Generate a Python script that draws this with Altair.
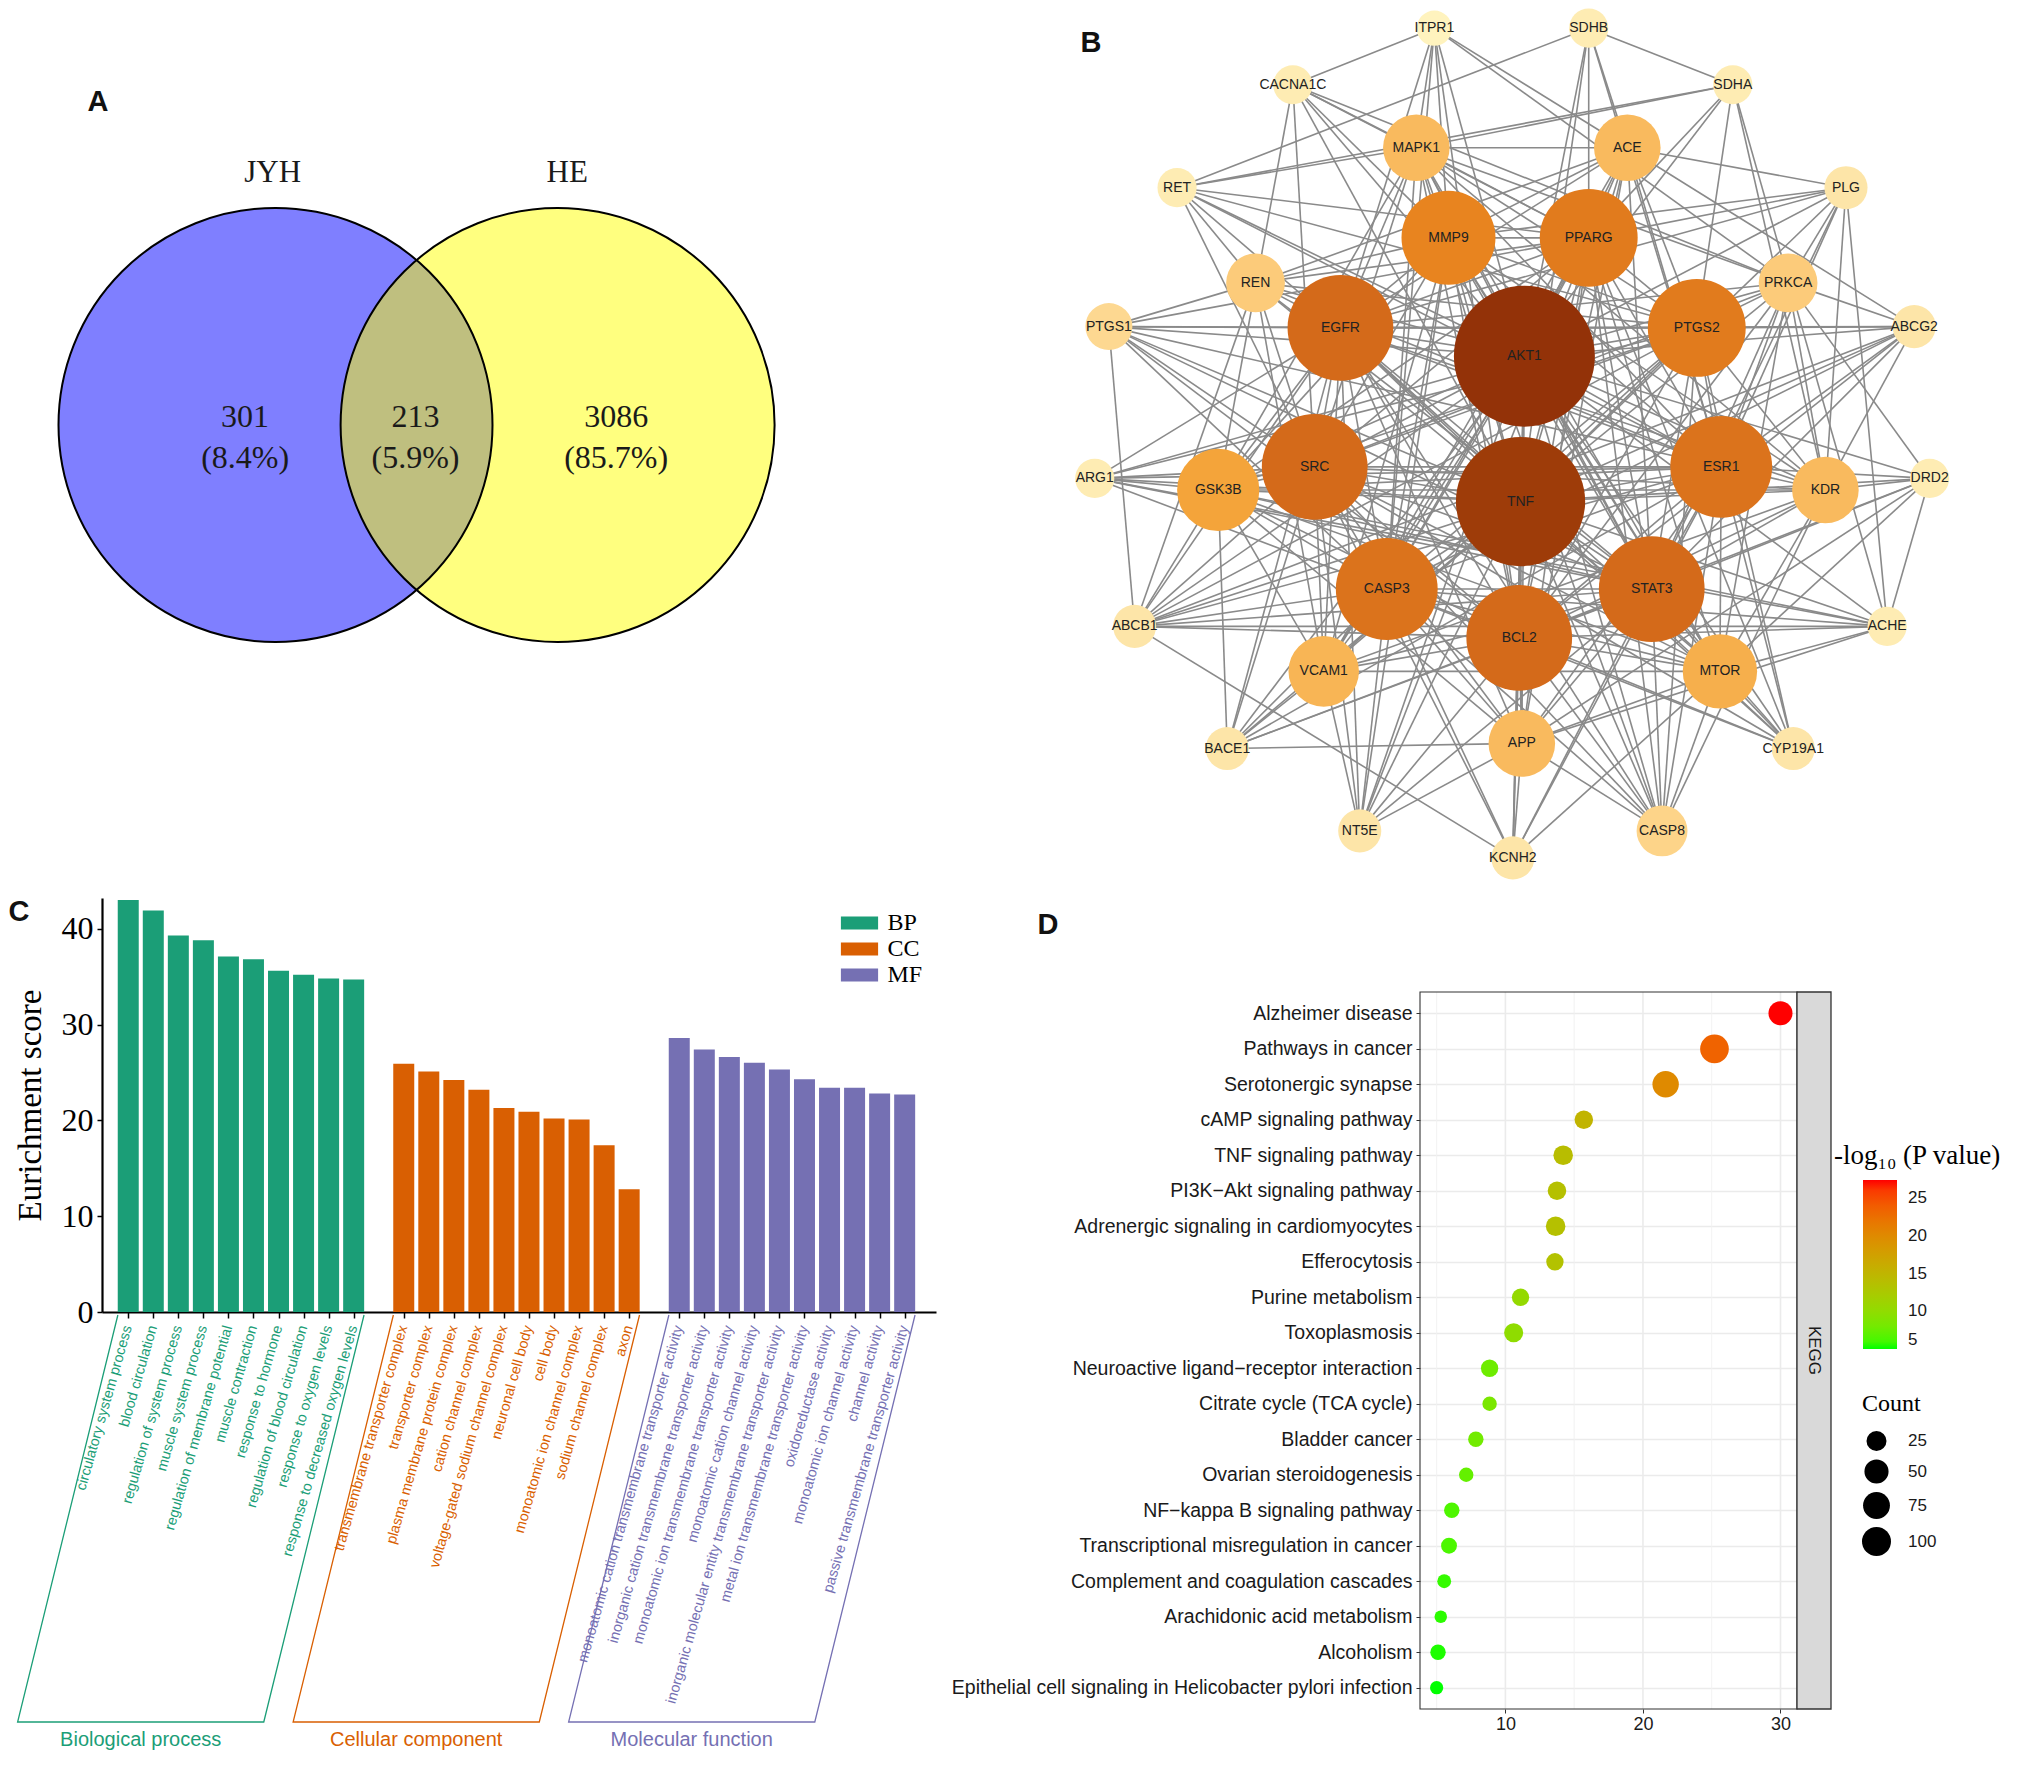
import math
import pandas as pd
import altair as alt

# ---------------- Panel A : Venn diagram ----------------
venn_sets = ["JYH", "HE"]
venn_center_x = [-0.65, 0.65]
venn_center_y = [0.0, 0.0]
venn_radius = 1.0
venn_fill = ["#0000FF", "#FFFF00"]
venn_set_label_x = [-0.663, 0.694]
venn_set_label_y = [1.161, 1.161]
venn_counts = [301, 213, 3086]
venn_pcts = ["8.4%", "5.9%", "85.7%"]
venn_region_x = [-0.79, -0.005, 0.92]
venn_count_y = 0.037
venn_pct_y = -0.150

# ---------------- Panel B : PPI network ----------------
gene_names = ["ITPR1", "SDHB", "CACNA1C", "SDHA", "MAPK1", "ACE", "RET", "PLG", "MMP9", "PPARG",
              "REN", "PRKCA", "PTGS1", "EGFR", "AKT1", "PTGS2", "ABCG2", "ARG1", "GSK3B", "SRC",
              "TNF", "ESR1", "KDR", "DRD2", "CASP3", "STAT3", "BCL2", "ABCB1", "ACHE", "VCAM1",
              "MTOR", "BACE1", "APP", "CYP19A1", "NT5E", "CASP8", "KCNH2"]
layout_x = [-6.6, 5.4, -17.6, 16.6, -8.0, 8.4, -26.6, 25.4, -5.5, 5.4,
            -20.5, 20.9, -31.9, -13.9, 0.4, 13.8, 30.7, -33.0, -23.4, -15.9,
            0.1, 15.7, 23.8, 31.9, -10.3, 10.3, 0.0, -29.9, 28.6, -15.2,
            15.6, -22.7, 0.2, 21.3, -12.4, 11.1, -0.5]
layout_y = [32.2, 32.2, 27.8, 27.8, 22.9, 22.9, 19.8, 19.8, 15.9, 15.9,
            12.4, 12.4, 9.0, 8.9, 6.7, 8.9, 9.0, -2.8, -3.7, -1.9,
            -4.6, -1.9, -3.7, -2.8, -11.4, -11.4, -15.2, -14.3, -14.3, -17.8,
            -17.8, -23.8, -23.4, -23.8, -30.2, -30.2, -32.3]
degree = [9, 10, 10, 10, 17, 17, 10, 11, 24, 25,
          15, 15, 12, 27, 36, 25, 11, 10, 21, 27,
          33, 26, 17, 10, 26, 27, 27, 11, 10, 18,
          19, 11, 17, 11, 11, 13, 11]
adjacency = {
    "AKT1": "TNF EGFR SRC STAT3 BCL2 CASP3 ESR1 PTGS2 PPARG MMP9",
    "TNF": "EGFR SRC STAT3 BCL2 CASP3 ESR1 PTGS2 PPARG MMP9",
    "EGFR": "SRC STAT3 BCL2 CASP3 ESR1 PTGS2 PPARG MMP9",
    "SRC": "STAT3 BCL2 CASP3 ESR1 PTGS2 PPARG MMP9",
    "STAT3": "BCL2 CASP3 ESR1 PTGS2 PPARG MMP9",
    "BCL2": "CASP3 ESR1 PTGS2 PPARG MMP9",
    "CASP3": "ESR1 PTGS2 PPARG MMP9",
    "ESR1": "PTGS2 PPARG MMP9",
    "PTGS2": "PPARG MMP9",
    "PPARG": "MMP9",
    "GSK3B": "AKT1 TNF EGFR SRC STAT3 BCL2 CASP3 ESR1 PPARG MMP9 MTOR APP MAPK1 BACE1 ARG1 ABCB1 VCAM1 KDR PTGS2",
    "MTOR": "AKT1 TNF EGFR SRC STAT3 BCL2 CASP3 ESR1 PPARG MMP9 MAPK1 KDR PRKCA APP CYP19A1 ACHE",
    "VCAM1": "AKT1 TNF EGFR SRC STAT3 BCL2 CASP3 MMP9 PPARG PTGS2 KDR ACE REN NT5E BACE1 MTOR",
    "KDR": "AKT1 TNF EGFR SRC STAT3 BCL2 ESR1 MMP9 PTGS2 MAPK1 PRKCA PLG DRD2 CASP8",
    "MAPK1": "AKT1 TNF EGFR SRC STAT3 BCL2 CASP3 ESR1 PTGS2 MMP9 PPARG ACE RET CACNA1C ITPR1 SDHA PRKCA",
    "ACE": "AKT1 TNF EGFR STAT3 BCL2 PPARG MMP9 PTGS2 REN PLG ESR1 ITPR1 SDHB ABCG2 APP",
    "APP": "AKT1 TNF CASP3 BCL2 ESR1 STAT3 BACE1 ACHE KCNH2 NT5E CASP8 SRC EGFR PPARG",
    "REN": "AKT1 TNF EGFR PPARG MMP9 PTGS2 RET PTGS1 ESR1 SRC STAT3 ABCB1",
    "PRKCA": "AKT1 TNF EGFR SRC STAT3 BCL2 ESR1 PTGS2 PLG ABCG2 ITPR1 CACNA1C",
    "ITPR1": "CACNA1C MMP9 AKT1 EGFR BCL2 CASP3",
    "SDHB": "SDHA RET AKT1 TNF PPARG ESR1",
    "SDHA": "RET AKT1 PTGS2 KDR ACHE PPARG",
    "CACNA1C": "MMP9 AKT1 GSK3B PPARG TNF SRC",
    "RET": "EGFR AKT1 PPARG ESR1 SRC PTGS2",
    "PLG": "MMP9 PPARG EGFR AKT1 TNF ESR1 STAT3 ACHE",
    "PTGS1": "PTGS2 EGFR AKT1 TNF SRC ESR1 CASP3 BCL2 ABCB1 PPARG STAT3",
    "ABCG2": "ABCB1 PTGS2 EGFR AKT1 ESR1 TNF STAT3 KDR BCL2 CASP3",
    "ARG1": "SRC TNF AKT1 EGFR PTGS2 STAT3 CASP3 ESR1 ACHE",
    "DRD2": "ESR1 TNF AKT1 ACHE MTOR STAT3 APP PRKCA BCL2",
    "ABCB1": "CASP3 BCL2 AKT1 TNF EGFR SRC ESR1 PTGS2 KCNH2 ACHE STAT3",
    "ACHE": "AKT1 TNF BCL2 CASP3 GSK3B",
    "BACE1": "AKT1 TNF CASP3 BCL2 STAT3 EGFR SRC ESR1",
    "CYP19A1": "ESR1 AKT1 TNF STAT3 BCL2 PTGS2 EGFR PPARG CASP3 SRC",
    "NT5E": "AKT1 TNF EGFR SRC CASP3 BCL2 STAT3 MMP9 PPARG",
    "KCNH2": "AKT1 TNF BCL2 CASP3 STAT3 ESR1 SRC MTOR",
    "CASP8": "AKT1 TNF BCL2 CASP3 STAT3 ESR1 EGFR SRC MTOR MMP9 PPARG PTGS2",
}
degree_color_domain = [9, 11, 12, 15, 17, 21, 24, 27, 31, 36]
degree_color_range = ["#FFF3BE", "#FDE5A8", "#FDD891", "#FCCB7A", "#F9BA5E",
                      "#F4A43A", "#E8841F", "#D46A1A", "#A5420A", "#933208"]

# ---------------- Panel C : GO enrichment bars ----------------
go_groups = ["BP", "CC", "MF"]
go_group_names = ["Biological process", "Cellular component", "Molecular function"]
go_colors = ["#1B9E77", "#D95F02", "#7570B3"]
bp_terms = ["circulatory system process", "blood circulation", "regulation of system process",
            "muscle system process", "regulation of membrane potential", "muscle contraction",
            "response to hormone", "regulation of blood circulation", "response to oxygen levels",
            "response to decreased oxygen levels"]
bp_scores = [43.0, 41.9, 39.3, 38.8, 37.1, 36.8, 35.6, 35.2, 34.8, 34.7]
cc_terms = ["transmembrane transporter complex", "transporter complex", "plasma membrane protein complex",
            "cation channel complex", "voltage-gated sodium channel complex", "neuronal cell body",
            "cell body", "monoatomic ion channel complex", "sodium channel complex", "axon"]
cc_scores = [25.9, 25.1, 24.2, 23.2, 21.3, 20.9, 20.2, 20.1, 17.4, 12.8]
mf_terms = ["monoatomic cation transmembrane transporter activity",
            "inorganic cation transmembrane transporter activity",
            "monoatomic ion transmembrane transporter activity",
            "monoatomic cation channel activity",
            "inorganic molecular entity transmembrane transporter activity",
            "metal ion transmembrane transporter activity",
            "oxidoreductase activity", "monoatomic ion channel activity",
            "channel activity", "passive transmembrane transporter activity"]
mf_scores = [28.6, 27.4, 26.6, 26.0, 25.3, 24.3, 23.4, 23.4, 22.8, 22.7]
go_y_ticks = [0, 10, 20, 30, 40]

# ---------------- Panel D : KEGG dot plot ----------------
kegg_category = "KEGG"
kegg_terms = ["Alzheimer disease", "Pathways in cancer", "Serotonergic synapse", "cAMP signaling pathway",
              "TNF signaling pathway", "PI3K\u2212Akt signaling pathway",
              "Adrenergic signaling in cardiomyocytes", "Efferocytosis", "Purine metabolism",
              "Toxoplasmosis", "Neuroactive ligand\u2212receptor interaction", "Citrate cycle (TCA cycle)",
              "Bladder cancer", "Ovarian steroidogenesis", "NF\u2212kappa B signaling pathway",
              "Transcriptional misregulation in cancer", "Complement and coagulation cascades",
              "Arachidonic acid metabolism", "Alcoholism",
              "Epithelial cell signaling in Helicobacter pylori infection"]
kegg_x = [30.0, 25.2, 21.65, 15.7, 14.2, 13.75, 13.65, 13.6, 11.1, 10.6,
          8.85, 8.85, 7.85, 7.15, 6.1, 5.9, 5.55, 5.3, 5.1, 5.0]
kegg_count = [49, 96, 70, 19, 23, 19, 23, 15, 15, 21, 15, 8, 10, 8, 10, 11, 7, 5, 10, 6]
kegg_logp = [27.4, 23.5, 20.0, 15.2, 14.0, 13.6, 13.6, 13.4, 10.3, 9.9,
             7.7, 8.4, 7.9, 7.2, 6.3, 6.2, 5.6, 5.4, 5.2, 5.0]
kegg_major_ticks = [10, 20, 30]
kegg_minor_ticks = [5, 15, 25]
kegg_color_ticks = [5, 10, 15, 20, 25]
kegg_count_ticks = [25, 50, 75, 100]
kegg_color_title = "-log\u2081\u2080 (P value)"

SANS = "Liberation Sans"
SERIF = "Liberation Serif"
LEFT_PAD = 94   # common left overflow of both rows


def letter(ch, x, y):
    return alt.Chart(pd.DataFrame({"t": [ch]})).mark_text(
        font=SANS, fontWeight="bold", fontSize=29, align="center", baseline="middle", color="#111111"
    ).encode(x=alt.value(x), y=alt.value(y), text="t:N")


def left_anchor():
    # invisible hairline that gives both rows the same left extent
    return alt.Chart(pd.DataFrame({"t": [0]})).mark_rule(strokeOpacity=0, strokeWidth=1).encode(
        x=alt.value(-LEFT_PAD), x2=alt.value(-LEFT_PAD + 1), y=alt.value(300), y2=alt.value(301))


ORIGIN = 8 + LEFT_PAD    # page x of the left plot edge of panels A and C

# ======== Panel A ========
A_W, A_H = 1000 - ORIGIN, 880
A_PX = 217.0
a_xmin = -0.65 - (275.5 - ORIGIN) / A_PX
a_xs = alt.Scale(domain=[a_xmin, a_xmin + A_W / A_PX], nice=False, zero=False)
a_ymax = 416 / A_PX
a_ys = alt.Scale(domain=[a_ymax - A_H / A_PX, a_ymax], nice=False, zero=False)
circle_size = (2 * venn_radius * A_PX) ** 2

venn_df = pd.DataFrame({"set": venn_sets, "cx": venn_center_x, "cy": venn_center_y,
                        "lx": venn_set_label_x, "ly": venn_set_label_y})
region_df = pd.DataFrame({
    "x": venn_region_x,
    "count": [str(c) for c in venn_counts],
    "pct": ["(" + p + ")" for p in venn_pcts],
    "cy": [venn_count_y] * 3,
    "py": [venn_pct_y] * 3,
})
a_fill = alt.Chart(venn_df).mark_circle(size=circle_size, opacity=1, fillOpacity=0.5, strokeWidth=0).encode(
    x=alt.X("cx:Q", scale=a_xs, axis=None), y=alt.Y("cy:Q", scale=a_ys, axis=None),
    color=alt.Color("set:N", scale=alt.Scale(domain=venn_sets, range=venn_fill), legend=None))
a_line = alt.Chart(venn_df).mark_point(shape="circle", filled=False, size=circle_size, color="black",
                                       strokeWidth=2, opacity=1).encode(
    x=alt.X("cx:Q", scale=a_xs, axis=None), y=alt.Y("cy:Q", scale=a_ys, axis=None))
a_setlab = alt.Chart(venn_df).mark_text(font=SERIF, fontSize=31, color="#1a1a1a").encode(
    x=alt.X("lx:Q", scale=a_xs, axis=None), y=alt.Y("ly:Q", scale=a_ys, axis=None), text="set:N")
a_cnt = alt.Chart(region_df).mark_text(font=SERIF, fontSize=32, color="#1a1a1a").encode(
    x=alt.X("x:Q", scale=a_xs, axis=None), y=alt.Y("cy:Q", scale=a_ys, axis=None), text="count:N")
a_pct = alt.Chart(region_df).mark_text(font=SERIF, fontSize=32, color="#1a1a1a").encode(
    x=alt.X("x:Q", scale=a_xs, axis=None), y=alt.Y("py:Q", scale=a_ys, axis=None), text="pct:N")
chartA = alt.layer(left_anchor(), a_fill, a_line, a_setlab, a_cnt, a_pct,
                   letter("A", 98 - ORIGIN, 93)).properties(width=A_W, height=A_H)

# ======== Panel B ========
B_LEFT = 1060
B_W, B_H = 930, 880
B_PX = 12.864
b_xmin = -35.70
b_xs = alt.Scale(domain=[b_xmin, b_xmin + B_W / B_PX], nice=False, zero=False)
b_ymax = 33.69
b_ys = alt.Scale(domain=[b_ymax - B_H / B_PX, b_ymax], nice=False, zero=False)

nodes = pd.DataFrame({"gene": gene_names, "x": layout_x, "y": layout_y, "degree": degree})
pos_lookup = {g: (x, y) for g, x, y in zip(gene_names, layout_x, layout_y)}
edge_set = []
seen = set()
for src, targets in adjacency.items():
    for tgt in targets.split():
        key = tuple(sorted((src, tgt)))
        if key not in seen and src != tgt:
            seen.add(key)
            edge_set.append(key)
edges = pd.DataFrame({
    "x": [pos_lookup[a][0] for a, b in edge_set], "y": [pos_lookup[a][1] for a, b in edge_set],
    "x2": [pos_lookup[b][0] for a, b in edge_set], "y2": [pos_lookup[b][1] for a, b in edge_set],
})
b_edges = alt.Chart(edges).mark_rule(color="#8A8A8A", strokeWidth=1.6).encode(
    x=alt.X("x:Q", scale=b_xs, axis=None), y=alt.Y("y:Q", scale=b_ys, axis=None), x2="x2:Q", y2="y2:Q")
b_nodes = alt.Chart(nodes).mark_circle(opacity=1).encode(
    x=alt.X("x:Q", scale=b_xs, axis=None), y=alt.Y("y:Q", scale=b_ys, axis=None),
    size=alt.Size("degree:Q", scale=alt.Scale(type="pow", exponent=2, domain=[0, 36], range=[0, 141 ** 2]),
                  legend=None),
    color=alt.Color("degree:Q", scale=alt.Scale(domain=degree_color_domain, range=degree_color_range),
                    legend=None))
b_labels = alt.Chart(nodes).mark_text(font=SANS, fontSize=14, color="#222222").encode(
    x=alt.X("x:Q", scale=b_xs, axis=None), y=alt.Y("y:Q", scale=b_ys, axis=None), text="gene:N")
chartB = alt.layer(b_edges, b_nodes, b_labels, letter("B", 31, 34)).properties(width=B_W, height=B_H)

# ======== Panel C ========
C_W, C_H = 936 - ORIGIN, 414
C_PXX = 25.35
c_x0 = -(123.5 - ORIGIN) / C_PXX
c_xdom = [c_x0, c_x0 + C_W / C_PXX]
c_ymax = 43.2
px_x = C_W / (c_xdom[1] - c_xdom[0])
px_y = C_H / c_ymax
rows = []
brackets = []
gnames = []
pos = 0
for g, gname, terms, scores in zip(go_groups, go_group_names, [bp_terms, cc_terms, mf_terms],
                                   [bp_scores, cc_scores, mf_scores]):
    first = pos
    for t, s in zip(terms, scores):
        rows.append({"pos": pos, "term": t, "score": s, "group": g})
        pos += 1
    last = pos - 1
    pos += 1
    half = 10.5 / px_x
    top_y = -3 / px_y
    bot_y = -410 / px_y
    shift = (410 - 3) * math.tan(math.radians(14)) / px_x
    pts = [(first - half, top_y), (first - half - shift, bot_y),
           (last + half - shift, bot_y), (last + half, top_y)]
    for i, (bx, by) in enumerate(pts):
        brackets.append({"bx": bx, "by": by, "ord": i, "group": g})
    gnames.append({"gx": (first - half - shift + last + half - shift) / 2, "gy": -428 / px_y,
                   "name": gname, "group": g})
go_df = pd.DataFrame(rows)
br_df = pd.DataFrame(brackets)
gn_df = pd.DataFrame(gnames)
positions = go_df["pos"].tolist()

c_xs = alt.Scale(domain=c_xdom, nice=False, zero=False)
c_ys = alt.Scale(domain=[0, c_ymax], nice=False, zero=True)
c_col = alt.Scale(domain=go_groups, range=go_colors)
c_xaxis = alt.Axis(values=positions, labels=False, title=None, grid=False, tickSize=6,
                   tickColor="black", tickWidth=1.5, domainColor="black", domainWidth=2.2)
c_yaxis = alt.Axis(values=go_y_ticks, title="Eurichment score", titleFont=SERIF, titleFontSize=33,
                   titleFontWeight="normal", titleColor="black", titlePadding=14,
                   labelFont=SERIF, labelFontSize=32, labelColor="black", labelPadding=4,
                   tickSize=5, tickColor="black", tickWidth=1.5, domainColor="black",
                   domainWidth=2.2, grid=False)

c_bars = alt.Chart(go_df).mark_bar(size=21).encode(
    x=alt.X("pos:Q", scale=c_xs, axis=c_xaxis),
    y=alt.Y("score:Q", scale=c_ys, axis=c_yaxis),
    color=alt.Color("group:N", scale=c_col,
                    legend=alt.Legend(orient="none", legendX=847.5 - ORIGIN, legendY=13, title=None,
                                      symbolType="M-1.55,-0.55H1.55V0.55H-1.55Z", symbolSize=576,
                                      symbolStrokeWidth=0, labelFont=SERIF, labelFontSize=24,
                                      labelColor="black", labelOffset=16, rowPadding=2, padding=0)))
c_labels = alt.Chart(go_df).mark_text(angle=286, align="right", baseline="middle", font=SANS,
                                      fontSize=14.5).encode(
    x=alt.X("pos:Q", scale=c_xs, axis=c_xaxis), y=alt.value(C_H + 14), text="term:N",
    color=alt.Color("group:N", scale=c_col, legend=None))
c_brackets = alt.Chart(br_df).mark_line(strokeWidth=1.3, clip=False).encode(
    x=alt.X("bx:Q", scale=c_xs, axis=c_xaxis), y=alt.Y("by:Q", scale=c_ys, axis=c_yaxis),
    order="ord:Q", color=alt.Color("group:N", scale=c_col, legend=None))
c_gnames = alt.Chart(gn_df).mark_text(font=SANS, fontSize=20, baseline="middle").encode(
    x=alt.X("gx:Q", scale=c_xs, axis=c_xaxis), y=alt.Y("gy:Q", scale=c_ys, axis=c_yaxis), text="name:N",
    color=alt.Color("group:N", scale=c_col, legend=None))
chartC = alt.layer(left_anchor(), c_bars, c_labels, c_brackets, c_gnames,
                   letter("C", 19 - ORIGIN, 14)).properties(width=C_W, height=C_H)

# ======== Panel D ========
D_LEFT = 1420
D_W = 377
D_TOP = 94
D_PH = 717
D_VH = D_TOP + D_PH
kegg_df = pd.DataFrame({"term": kegg_terms, "enrich": kegg_x, "count": kegg_count, "logp": kegg_logp})
d_xs = alt.Scale(domain=[3.79, 31.2], nice=False, zero=False)
d_xaxis = alt.Axis(values=kegg_major_ticks, title=None, labelFont=SANS, labelFontSize=18,
                   labelColor="#1a1a1a", tickSize=4, tickColor="#333333", domain=False, grid=False,
                   labelPadding=2)
d_major = alt.Chart(pd.DataFrame({"v": kegg_major_ticks})).mark_rule(color="#EBEBEB", strokeWidth=1.6).encode(
    x=alt.X("v:Q", scale=d_xs, axis=d_xaxis), y=alt.value(D_TOP), y2=alt.value(D_VH))
d_minor = alt.Chart(pd.DataFrame({"v": kegg_minor_ticks})).mark_rule(color="#F0F0F0", strokeWidth=0.9).encode(
    x=alt.X("v:Q", scale=d_xs, axis=d_xaxis), y=alt.value(D_TOP), y2=alt.value(D_VH))
d_pts = alt.Chart(kegg_df).mark_circle(opacity=1).encode(
    x=alt.X("enrich:Q", scale=d_xs, axis=d_xaxis),
    y=alt.Y("term:N", sort=kegg_terms, scale=alt.Scale(type="point", padding=0.6, range=[D_TOP, D_VH]),
            axis=alt.Axis(title=None, labelFont=SANS, labelFontSize=19.5, labelColor="#1a1a1a",
                          labelLimit=0, labelPadding=4, tickSize=4, tickColor="#333333", domain=False,
                          grid=True, gridColor="#EBEBEB", gridWidth=1.6)),
    color=alt.Color("logp:Q", scale=alt.Scale(range=["#00FF00", "#FF0000"], interpolate="lab",
                                              nice=False, zero=False),
                    legend=alt.Legend(orient="none", legendX=443, legendY=188 + D_TOP, direction="vertical",
                                      gradientLength=169, gradientThickness=34, title=None,
                                      values=kegg_color_ticks, labelFont=SANS, labelFontSize=17,
                                      labelColor="#1a1a1a", labelOffset=11, gradientStrokeWidth=0,
                                      padding=0)),
    size=alt.Size("count:Q", scale=alt.Scale(type="sqrt", domain=[5, 100], range=[156, 841], zero=False),
                  legend=alt.Legend(orient="none", legendX=442, legendY=400 + D_TOP, title="Count",
                                    titleFont=SERIF, titleFontSize=24, titleFontWeight="normal",
                                    titleColor="black", titlePadding=15, values=kegg_count_ticks,
                                    symbolFillColor="black", symbolStrokeWidth=0, symbolOpacity=1,
                                    labelFont=SANS, labelFontSize=17, labelColor="#1a1a1a",
                                    labelOffset=17, rowPadding=8, padding=0)))
d_border = alt.Chart(pd.DataFrame({"t": [0]})).mark_rect(fill="white", fillOpacity=0, stroke="#333333",
                                                        strokeWidth=1.1).encode(
    x=alt.value(0), x2=alt.value(D_W), y=alt.value(D_TOP), y2=alt.value(D_VH))
strip_df = pd.DataFrame({"facet": [kegg_category]})
d_strip = alt.Chart(strip_df).mark_rect(fill="#D9D9D9", stroke="#333333", strokeWidth=1.3).encode(
    x=alt.value(D_W), x2=alt.value(D_W + 34), y=alt.value(D_TOP), y2=alt.value(D_VH))
d_strip_text = alt.Chart(strip_df).mark_text(angle=90, font=SANS, fontSize=17, color="#1a1a1a",
                                             baseline="middle").encode(
    x=alt.value(D_W + 17), y=alt.value(D_TOP + D_PH / 2), text="facet:N")
d_ctitle = alt.Chart(pd.DataFrame({"t": [kegg_color_title]})).mark_text(
    align="left", baseline="middle", font=SERIF, fontSize=27, color="black").encode(
    x=alt.value(414), y=alt.value(164 + D_TOP), text="t:N")
chartD = alt.layer(d_major, d_minor, d_pts, d_border, d_strip, d_strip_text, d_ctitle,
                   letter("D", 1048 - D_LEFT, 27)).properties(width=D_W, height=D_VH)

res = dict(color="independent", size="independent")
top_row = alt.hconcat(chartA, chartB, spacing=B_LEFT - ORIGIN - A_W, bounds="flush").resolve_scale(**res)
bottom_row = alt.hconcat(chartC, chartD, spacing=D_LEFT - ORIGIN - C_W, bounds="flush").resolve_scale(**res)
chart = alt.vconcat(top_row, bottom_row, spacing=9).resolve_scale(**res).properties(
    padding=0, background="white").configure_view(strokeWidth=0)

chart.save("out.html", embed_options={"renderer": "svg", "actions": False})
